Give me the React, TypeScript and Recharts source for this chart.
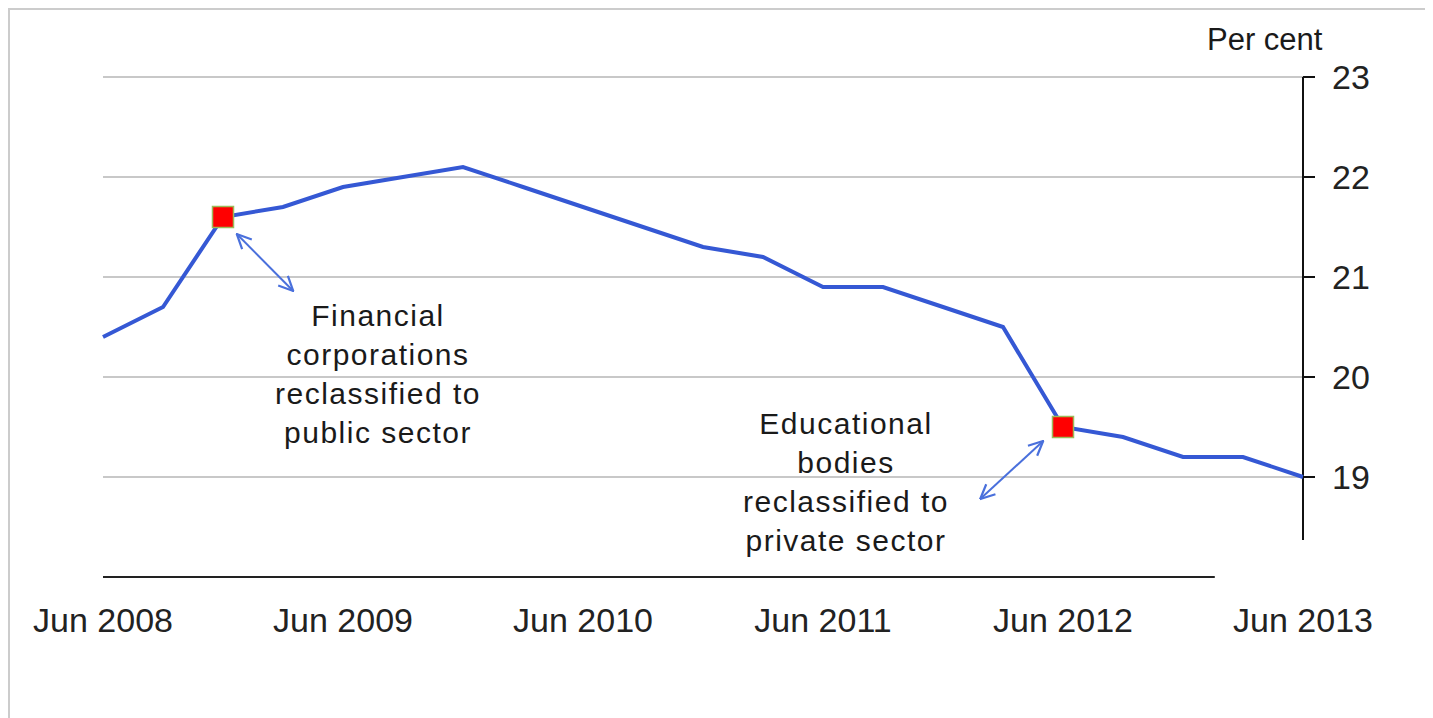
import React from 'react';
import { LineChart, Line, XAxis, YAxis, CartesianGrid, ReferenceLine } from 'recharts';

const quarters = [
  'Jun 2008', 'Sep 2008', 'Dec 2008', 'Mar 2009', 'Jun 2009', 'Sep 2009', 'Dec 2009',
  'Mar 2010', 'Jun 2010', 'Sep 2010', 'Dec 2010', 'Mar 2011', 'Jun 2011', 'Sep 2011',
  'Dec 2011', 'Mar 2012', 'Jun 2012', 'Sep 2012', 'Dec 2012', 'Mar 2013', 'Jun 2013',
];
const shareValues = [
  20.4, 20.7, 21.6, 21.7, 21.9, 22.0, 22.1, 21.9, 21.7, 21.5, 21.3,
  21.2, 20.9, 20.9, 20.7, 20.5, 19.5, 19.4, 19.2, 19.2, 19.0,
];
const xTickIndices = [0, 4, 8, 12, 16, 20];
const yTicks = [19, 20, 21, 22, 23];
const reclassifiedIndices = [2, 16];
const annotationFinancial = ['Financial', 'corporations', 'reclassified to', 'public sector'];
const annotationEducational = ['Educational', 'bodies', 'reclassified to', 'private sector'];
const arrowFinancial = [{ x: 2.23, y: 21.43 }, { x: 3.17, y: 20.86 }];
const arrowEducational = [{ x: 15.67, y: 19.36 }, { x: 14.62, y: 18.78 }];
const yAxisLine = [{ x: 20, y: 18.37 }, { x: 20, y: 23 }];
const xAxisLine = [{ x: 0, y: 18 }, { x: 18.53, y: 18 }];

const data = quarters.map((q, i) => ({ idx: i, quarter: q, value: shareValues[i] }));

const FONT = '"Liberation Sans", Arial, sans-serif';

const renderDot = (props: any) => {
  const { cx, cy, index } = props;
  if (!reclassifiedIndices.includes(index) || cx == null || cy == null) {
    return <g key={`d-${index}`} />;
  }
  return (
    <rect
      key={`d-${index}`}
      x={cx - 10.5}
      y={cy - 10.5}
      width={21}
      height={21}
      fill="#ff0000"
      stroke="#9bbb59"
      strokeWidth={1.5}
    />
  );
};

const annotationStyle: React.CSSProperties = {
  position: 'absolute',
  width: 320,
  textAlign: 'center',
  fontFamily: FONT,
  fontSize: 30,
  letterSpacing: 1.5,
  lineHeight: '39px',
  color: '#1a1a1a',
  whiteSpace: 'nowrap',
};

export default function App() {
  return (
    <div
      style={{
        position: 'relative',
        width: 1421,
        height: 720,
        borderTop: '2px solid #cccccc',
        borderLeft: '2px solid #cccccc',
        borderRight: '2px solid #cccccc',
        boxSizing: 'border-box',
        background: '#ffffff',
        fontFamily: FONT,
      }}
    >
      <style>{'html,body{overflow:hidden;}'}</style>
      <LineChart
        width={1417}
        height={716}
        data={data}
        margin={{ top: 67, right: 0, bottom: 89, left: 93 }}
        style={{ fontFamily: FONT }}
      >
        <defs>
          <marker
            id="arrowHead"
            viewBox="0 0 10 10"
            refX="9.5"
            refY="5"
            markerWidth="17"
            markerHeight="17"
            markerUnits="userSpaceOnUse"
            orient="auto-start-reverse"
          >
            <path d="M1,1 L9.5,5 L1,9" fill="none" stroke="#4a70dc" strokeWidth={1.3} />
          </marker>
        </defs>
        <CartesianGrid
          vertical={false}
          horizontalValues={yTicks}
          stroke="#c8c8c8"
          strokeWidth={2}
        />
        <XAxis
          dataKey="idx"
          type="number"
          domain={[0, 20]}
          ticks={xTickIndices}
          tickFormatter={(v: number) => quarters[v]}
          axisLine={false}
          tickLine={false}
          tickSize={6}
          tickMargin={25}
          height={60}
          interval={0}
          tick={{ fontFamily: FONT, fontSize: 34, fill: '#222222' }}
        />
        <YAxis
          orientation="right"
          width={124}
          domain={[18, 23]}
          ticks={yTicks}
          axisLine={false}
          tickLine={{ stroke: '#111111', strokeWidth: 2 }}
          tickSize={12}
          tickMargin={17}
          interval={0}
          tick={{ fontFamily: FONT, fontSize: 34, fill: '#222222', textAnchor: 'start' }}
        />
        <ReferenceLine segment={yAxisLine} stroke="#111111" strokeWidth={2} ifOverflow="visible" />
        <ReferenceLine segment={xAxisLine} stroke="#222222" strokeWidth={2} ifOverflow="visible" />
        <ReferenceLine
          segment={arrowFinancial}
          stroke="#4a70dc"
          strokeWidth={2}
          ifOverflow="visible"
          markerStart="url(#arrowHead)"
          markerEnd="url(#arrowHead)"
        />
        <ReferenceLine
          segment={arrowEducational}
          stroke="#4a70dc"
          strokeWidth={2}
          ifOverflow="visible"
          markerStart="url(#arrowHead)"
          markerEnd="url(#arrowHead)"
        />
        <Line
          type="linear"
          dataKey="value"
          stroke="#3558d4"
          strokeWidth={4}
          dot={renderDot}
          activeDot={false}
          isAnimationActive={false}
        />
      </LineChart>
      <div
        style={{
          position: 'absolute',
          left: 1197,
          top: 10,
          fontFamily: FONT,
          fontSize: 31,
          lineHeight: '39px',
          color: '#1a1a1a',
          whiteSpace: 'nowrap',
        }}
      >
        Per cent
      </div>
      <div style={{ ...annotationStyle, left: 368 - 160, top: 286 }}>
        {annotationFinancial.map((t) => (
          <div key={t}>{t}</div>
        ))}
      </div>
      <div style={{ ...annotationStyle, left: 836 - 160, top: 394 }}>
        {annotationEducational.map((t) => (
          <div key={t}>{t}</div>
        ))}
      </div>
    </div>
  );
}
